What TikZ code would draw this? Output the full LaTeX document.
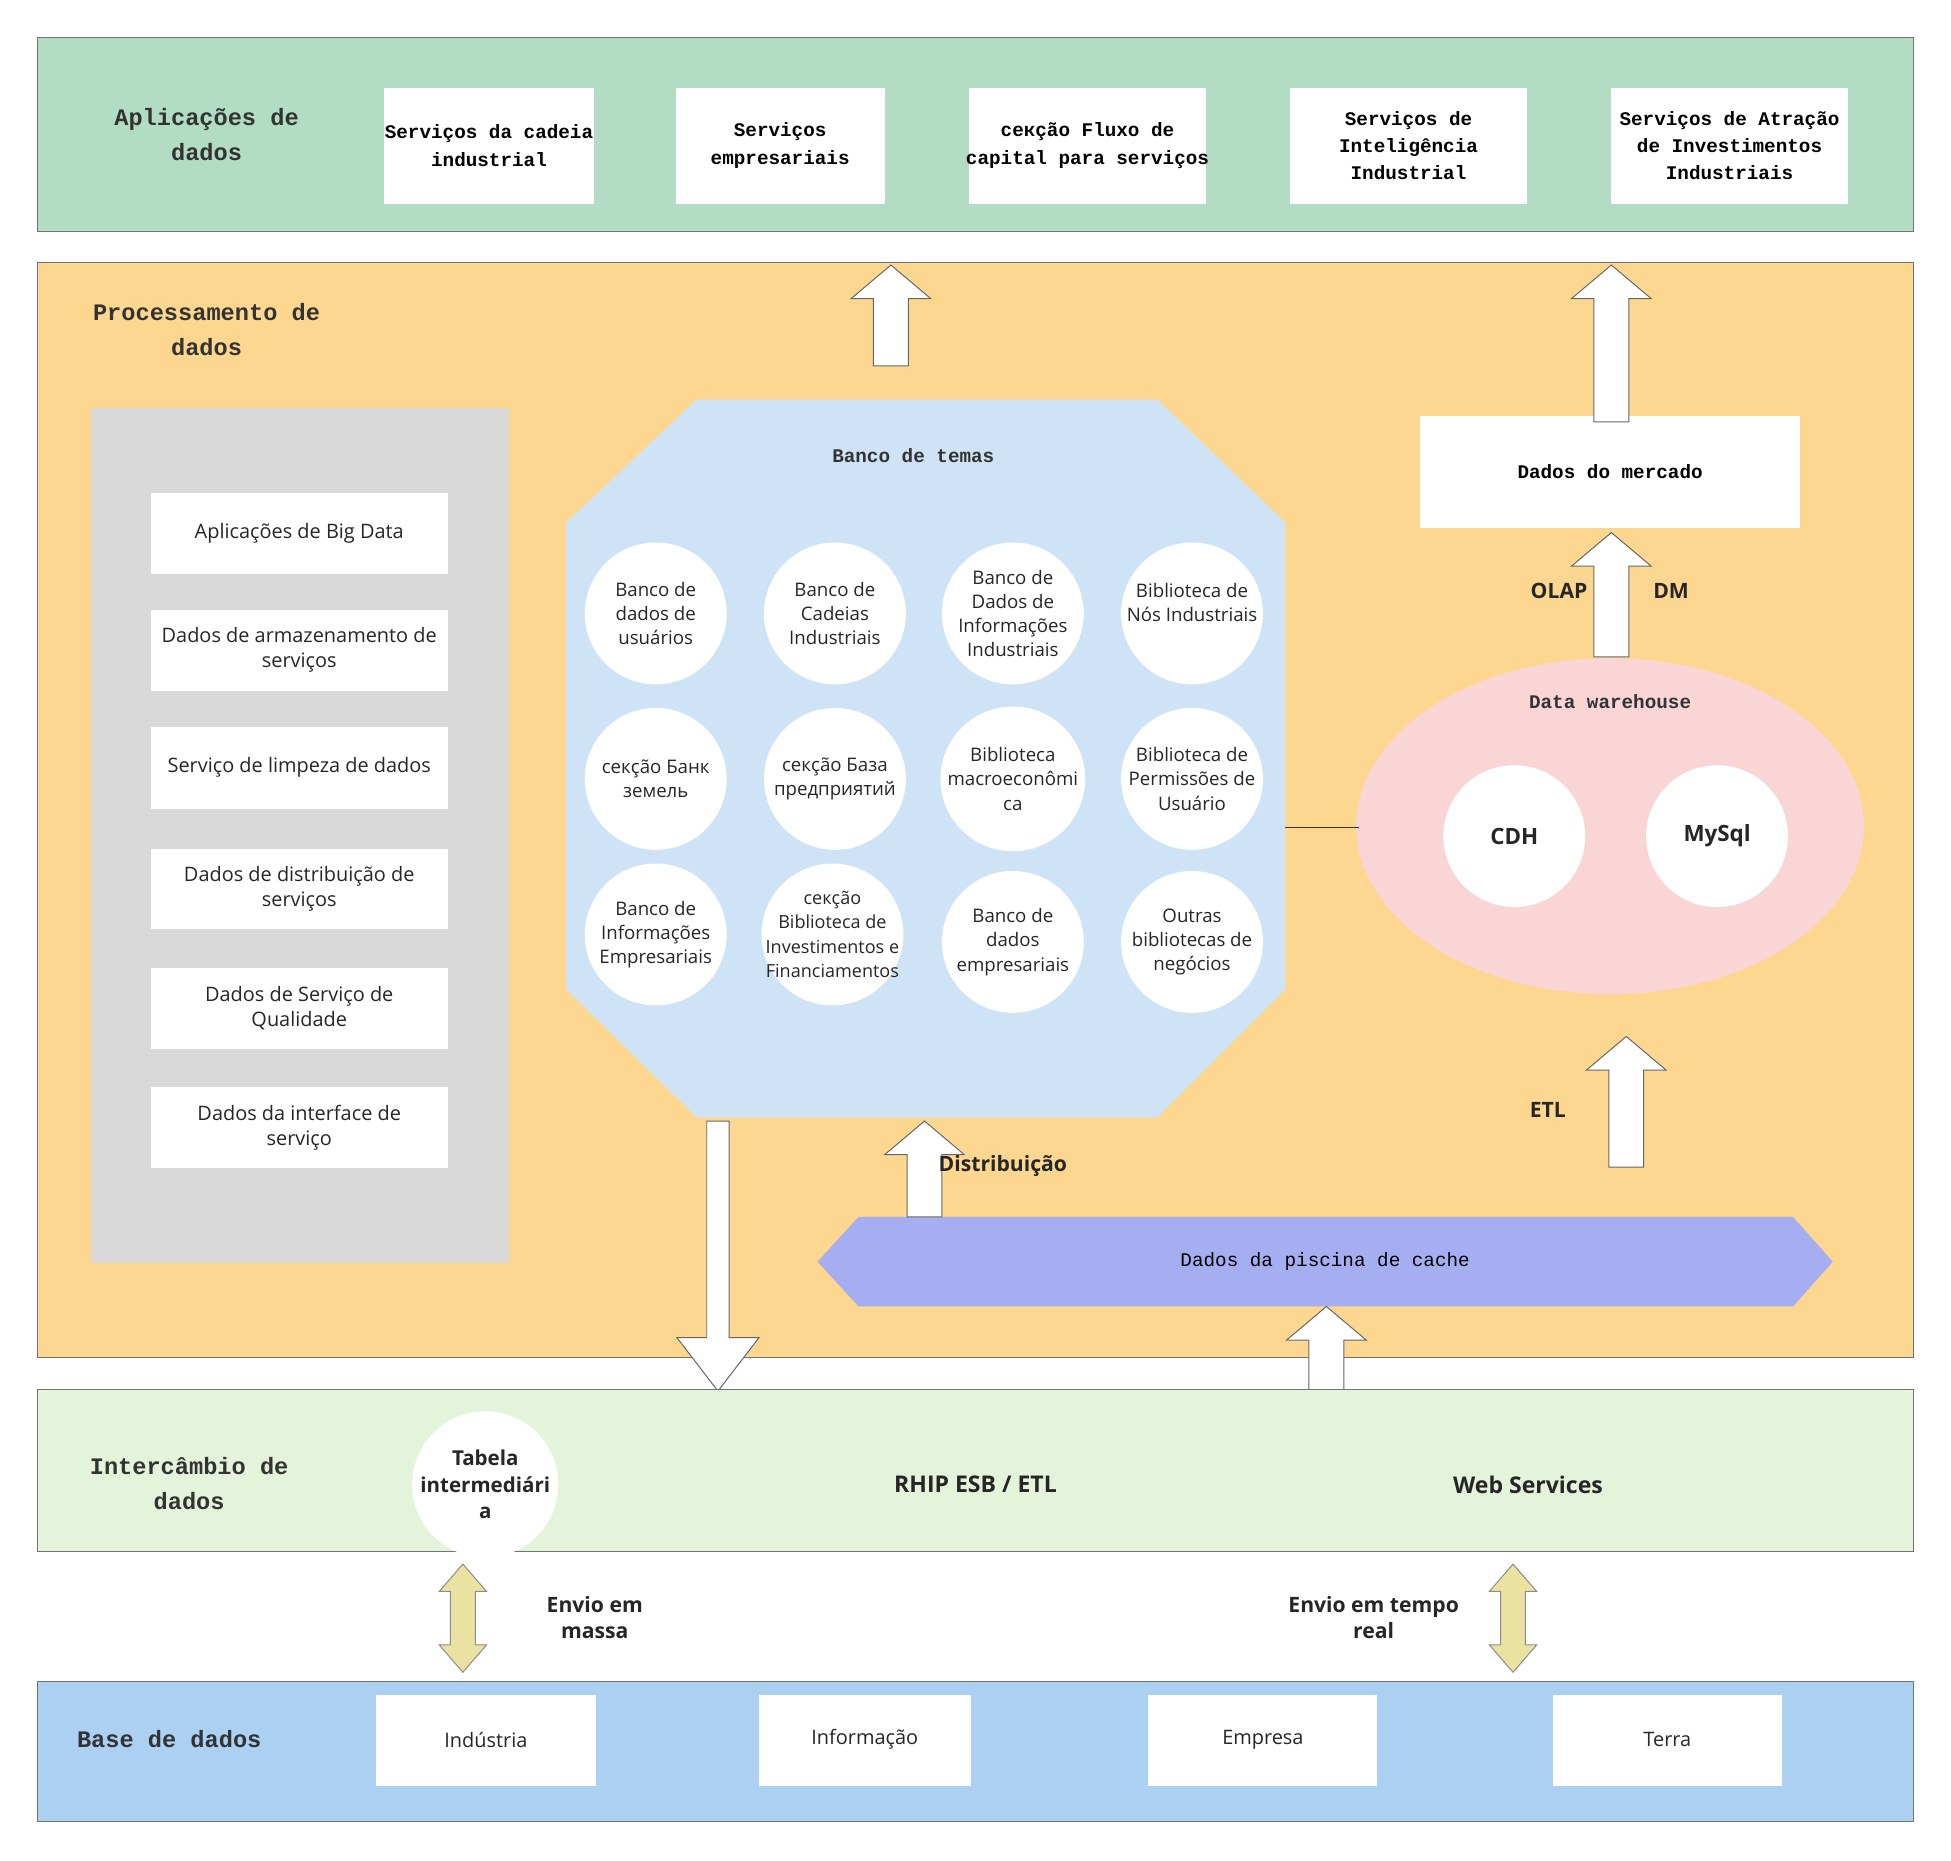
\documentclass[tikz,border=0pt]{standalone}
\usepackage{fontspec}
\setmainfont{Open Sans}
\setmonofont{Liberation Mono}
\definecolor{cgreen}{RGB}{178,220,196}
\definecolor{corange}{RGB}{253,215,143}
\definecolor{cblue}{RGB}{207,227,247}
\definecolor{cpink}{RGB}{249,213,214}
\definecolor{cviolet}{RGB}{164,174,240}
\definecolor{clgreen}{RGB}{228,244,218}
\definecolor{cbase}{RGB}{171,208,242}
\definecolor{cyel}{RGB}{234,226,160}
\begin{document}
\begin{tikzpicture}[x=1pt,y=-1pt,
  layer/.style={draw=black!55,line width=0.8pt},
  mono/.style={font=\fontsize{15.5}{22}\selectfont\ttfamily\bfseries,align=center},
  title/.style={font=\fontsize{19}{28}\selectfont\ttfamily\bfseries,align=center,text=black!80},
  sans/.style={font=\fontsize{16}{20}\selectfont,align=center,text=black!85},
  bsans/.style={font=\fontsize{17}{21}\selectfont\bfseries,align=center,text=black!85},
  circ/.style={circle,fill=white,minimum size=114pt,inner sep=0pt,font=\fontsize{15}{19.5}\selectfont,align=center,text=black!85},
  blk/.style={fill=white,draw=black!60,line width=0.8pt},
  dbl/.style={fill=cyel,draw=black!45,line width=0.8pt}]
\newcommand\myup[3]{\draw[blk] (#1-14,#2) -- (#1-14,#3+27) -- (#1-32,#3+27) -- (#1,#3) -- (#1+32,#3+27) -- (#1+14,#3+27) -- (#1+14,#2) -- cycle;}
\newcommand\mydbl[3]{\draw[dbl] (#1-10,#2+22) -- (#1-19,#2+22) -- (#1,#2) -- (#1+19,#2+22) -- (#1+10,#2+22) -- (#1+10,#3-22) -- (#1+19,#3-22) -- (#1,#3) -- (#1-19,#3-22) -- (#1-10,#3-22) -- cycle;}
\useasboundingbox (0,0) rectangle (1568,1495);
\fill[white] (0,0) rectangle (1568,1495);
% top layer
\draw[layer,fill=cgreen] (30,30) rectangle (1538,186);
\node[title] (tApp) at (166,108) {Aplicações de\\dados};
\foreach \a/\b/\t [count=\i] in {309/477/{Serviços da cadeia\\industrial},543/711/{Serviços\\empresariais},779/969/{секção Fluxo de\\capital para serviços},1037/1227/{Serviços de\\Inteligência\\Industrial},1295/1485/{Serviços de Atração\\de Investimentos\\Industriais}}{
  \fill[white] (\a,71) rectangle (\b,164);
  \node[mono] (app\i) at ({(\a+\b)/2},117) {\t};}
% processing
\draw[layer,fill=corange] (30,211) rectangle (1538,1091);
\node[title] (tProc) at (166,265) {Processamento de\\dados};
\fill[black!15] (73,328) rectangle (409,1015);
\foreach \ya/\yb/\t [count=\i] in {396/461/{Aplicações de Big Data},490/555/{Dados de armazenamento de\\serviços},584/650/{Serviço de limpeza de dados},682/747/{Dados de distribuição de\\serviços},778/843/{Dados de Serviço de\\Qualidade},874/939/{Dados da interface de\\serviço}}{
  \fill[white] (121,\ya) rectangle (360,\yb);
  \node[sans] (g\i) at (240.5,{(\ya+\yb)/2}) {\t};}
\fill[cblue] (560,321) -- (930,321) -- (1033,420) -- (1033,795) -- (930,898) -- (560,898) -- (455,795) -- (455,420) -- cycle;
\node[mono,text=black!80] (bt) at (734,366) {Banco de temas};
\node[circ] (c11) at (527,493) {Banco de\\dados de\\usuários};
\node[circ] (c12) at (671,493) {Banco de\\Cadeias\\Industriais};
\node[circ] (c13) at (814,493) {Banco de\\Dados de\\Informações\\Industriais};
\node[circ] (c14) at (958,493) {};
\node[circ,fill=none,minimum size=0pt] at (958,484) {Biblioteca de\\Nós Industriais};
\node[circ] (c21) at (527,626) {секção Банк\\земель};
\node[circ] (c22) at (671,626) {секção База\\предприятий};
\node[circ] (c23) at (814,626) {Biblioteca\\macroeconômi\\ca};
\node[circ] (c24) at (958,626) {Biblioteca de\\Permissões de\\Usuário};
\node[circ] (c31) at (527,751) {Banco de\\Informações\\Empresariais};
\node[circ] (c32) at (669,751) {};
\node[circ,fill=none,minimum size=0pt,font=\fontsize{14.5}{19.5}\selectfont] at (669,751) {секção\\Biblioteca de\\Investimentos e\\Financiamentos};
\node[circ] (c33) at (814,757) {Banco de\\dados\\empresariais};
\node[circ] (c34) at (958,757) {Outras\\bibliotecas de\\negócios};
% market
\fill[white] (1141,334) rectangle (1447,424);
\node[mono] (mk) at (1294,379) {Dados do mercado};
% warehouse
\fill[cpink] (1294,664) ellipse [x radius=204,y radius=135];
\node[mono,text=black!80] (dw) at (1294,564) {Data warehouse};
\node[circ,font=\fontsize{18}{20}\selectfont\bfseries] (cdh) at (1217,672) {CDH};
\node[circ,font=\fontsize{18}{20}\selectfont\bfseries] (my) at (1380,672) {MySql};
\coordinate (la) at (1033,665); \coordinate (lb) at (1092,665);
\draw[black!80,line width=0.8pt] (la) -- (lb);
% cache
\fill[cviolet] (690,978) -- (1441,978) -- (1473,1014) -- (1441,1050) -- (690,1050) -- (657,1014) -- cycle;
\node[mono,font=\fontsize{15.5}{20}\selectfont\ttfamily] (cache) at (1065,1014) {Dados da piscina de cache};
% arrows
\myup{716}{294}{213}
\myup{1295}{339}{213}
\myup{1295}{528}{428}
\myup{1307}{938}{833}
\myup{743}{978}{901}
\myup{1066}{1120}{1050}
\draw[blk] (568,901) -- (586,901) -- (586,1075) -- (610,1075) -- (577,1118) -- (544,1075) -- (568,1075) -- cycle;
\node[bsans] (olap) at (1253,475) {OLAP};
\node[bsans] (dm) at (1343,475) {DM};
\node[bsans] (etl) at (1244,892) {ETL};
\node[bsans] (dist) at (806,937) {Distribuição};
% exchange
\draw[layer,fill=clgreen] (30,1117) rectangle (1538,1247);
\node[title] (tEx) at (152,1192) {Intercâmbio de\\dados};
\node[circ,minimum size=110pt,font=\fontsize{16.5}{21}\selectfont\bfseries] (tab) at (390,1193) {Tabela\\intermediári\\a};
\node[bsans,font=\fontsize{18.5}{22}\selectfont\bfseries] (esb) at (784,1193) {RHIP ESB / ETL};
\node[bsans,font=\fontsize{18.5}{22}\selectfont\bfseries] (ws) at (1228,1193) {Web Services};
\mydbl{372}{1257}{1344}
\mydbl{1216}{1257}{1344}
\node[bsans] (em) at (478,1300) {Envio em\\massa};
\node[bsans] (et) at (1104,1300) {Envio em tempo\\real};
% base
\draw[layer,fill=cbase] (30,1351) rectangle (1538,1464);
\node[title] (tBase) at (136,1398) {Base de dados};
\foreach \a/\b/\t [count=\i] in {302/479/Indústria,610/780/Informação,923/1107/Empresa,1248/1432/Terra}{
  \fill[white] (\a,1362) rectangle (\b,1435);
  \node[sans] (b\i) at ({(\a+\b)/2},1398) {\t};}
\end{tikzpicture}
\end{document}
